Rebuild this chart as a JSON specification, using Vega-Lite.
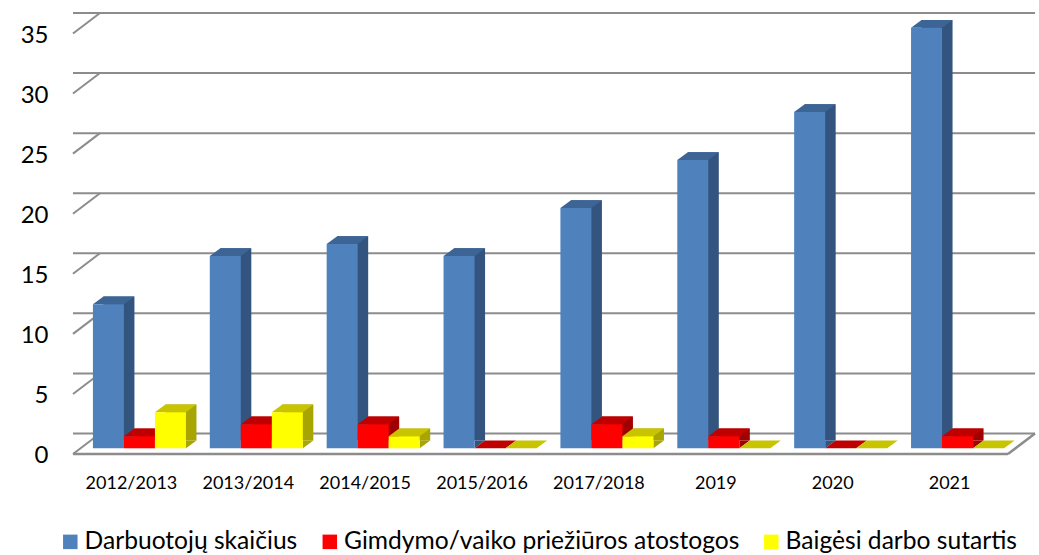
{
"$schema":"https://vega.github.io/schema/vega-lite/v6.json",
"width":935,"height":420.5,
"autosize":"none",
"padding":{"left":73,"top":33.5,"right":31,"bottom":101},
"background":"white",
"config":{"view":{"stroke":null},"font":"Lato"},
"datasets":{
"ticks":[{"tick":0},{"tick":5},{"tick":10},{"tick":15},{"tick":20},{"tick":25},{"tick":30},{"tick":35}],
"floor":[{"tick":0}],
"bars":[
{"period":"2012/2013","series":"Darbuotojų skaičius","value":12},{"period":"2012/2013","series":"Gimdymo/vaiko priežiūros atostogos","value":1},{"period":"2012/2013","series":"Baigėsi darbo sutartis","value":3},
{"period":"2013/2014","series":"Darbuotojų skaičius","value":16},{"period":"2013/2014","series":"Gimdymo/vaiko priežiūros atostogos","value":2},{"period":"2013/2014","series":"Baigėsi darbo sutartis","value":3},
{"period":"2014/2015","series":"Darbuotojų skaičius","value":17},{"period":"2014/2015","series":"Gimdymo/vaiko priežiūros atostogos","value":2},{"period":"2014/2015","series":"Baigėsi darbo sutartis","value":1},
{"period":"2015/2016","series":"Darbuotojų skaičius","value":16},{"period":"2015/2016","series":"Gimdymo/vaiko priežiūros atostogos","value":0},{"period":"2015/2016","series":"Baigėsi darbo sutartis","value":0},
{"period":"2017/2018","series":"Darbuotojų skaičius","value":20},{"period":"2017/2018","series":"Gimdymo/vaiko priežiūros atostogos","value":2},{"period":"2017/2018","series":"Baigėsi darbo sutartis","value":1},
{"period":"2019","series":"Darbuotojų skaičius","value":24},{"period":"2019","series":"Gimdymo/vaiko priežiūros atostogos","value":1},{"period":"2019","series":"Baigėsi darbo sutartis","value":0},
{"period":"2020","series":"Darbuotojų skaičius","value":28},{"period":"2020","series":"Gimdymo/vaiko priežiūros atostogos","value":0},{"period":"2020","series":"Baigėsi darbo sutartis","value":0},
{"period":"2021","series":"Darbuotojų skaičius","value":35},{"period":"2021","series":"Gimdymo/vaiko priežiūros atostogos","value":1},{"period":"2021","series":"Baigėsi darbo sutartis","value":0}
]},
"layer":[
{"data":{"name":"ticks"},
 "mark":{"type":"rule","stroke":"#8c8c8c","strokeWidth":2,"xOffset":27,"yOffset":-20.5,"x2Offset":27},
 "encoding":{"y":{"field":"tick","type":"quantitative","scale":{"domain":[0,35],"nice":false},
   "axis":{"title":null,"values":[0,5,10,15,20,25,30,35],"grid":false,"domain":false,"ticks":false,"labelPadding":25,"labelOffset":1.5,"labelFontSize":24,"labelColor":"#000000","labelFont":"Lato"}}}},
{"data":{"name":"ticks"},
 "mark":{"type":"point","shape":"M0,0L27,-20.5","filled":false,"size":4,"stroke":"#8c8c8c","strokeWidth":2,"opacity":1},
 "encoding":{"x":{"value":0},"y":{"field":"tick","type":"quantitative","axis":null,"scale":{"domain":[0,35],"nice":false}}}},
{"data":{"name":"floor"},
 "mark":{"type":"rule","stroke":"#8c8c8c","strokeWidth":2.5},
 "encoding":{"y":{"field":"tick","type":"quantitative","axis":null,"scale":{"domain":[0,35],"nice":false}}}},
{"data":{"name":"floor"},
 "mark":{"type":"point","shape":"M0,0L27,-20.5","filled":false,"size":4,"stroke":"#8c8c8c","strokeWidth":2.5,"opacity":1},
 "encoding":{"x":{"value":"width"},"y":{"field":"tick","type":"quantitative","axis":null,"scale":{"domain":[0,35],"nice":false}}}},
{"data":{"name":"bars"},
 "transform":[{"filter":"datum.value>0"}],
 "mark":{"type":"bar","opacity":1},
 "encoding":{
  "x":{"field":"period","type":"nominal","sort":null,"axis":null,"scale":{"type":"band","paddingInner":0.204,"paddingOuter":0.102,"range":[18.5,953.5]}},
  "xOffset":{"field":"series","type":"nominal","scale":{"domain":["Darbuotojų skaičius","Gimdymo/vaiko priežiūros atostogos","Baigėsi darbo sutartis"],"paddingInner":0,"paddingOuter":0}},
  "y":{"field":"value","type":"quantitative","stack":null,"axis":null,"scale":{"domain":[0,35],"nice":false,"range":[407.1,-13.4]}},
  "color":{"field":"series","type":"nominal","legend":null,"scale":{"domain":["Darbuotojų skaičius","Gimdymo/vaiko priežiūros atostogos","Baigėsi darbo sutartis"],"range":["#32547f","#a00000","#a8a400"]}}}},
{"data":{"name":"bars"},
 "transform":[{"filter":"datum.value>0"}],
 "mark":{"type":"point","shape":"M15.5,0L26,-7.7L15.5,-7.7Z","filled":true,"size":4,"opacity":1},
 "encoding":{
  "x":{"field":"period","type":"nominal","sort":null,"axis":null,"scale":{"type":"band","paddingInner":0.204,"paddingOuter":0.102,"range":[8,943]}},
  "xOffset":{"field":"series","type":"nominal","scale":{"type":"point","domain":["Darbuotojų skaičius","Gimdymo/vaiko priežiūros atostogos","Baigėsi darbo sutartis"],"padding":0.5}},
  "y":{"datum":0,"type":"quantitative","axis":null,"scale":{"domain":[0,35],"nice":false,"range":[414.8,-5.7]}},
  "color":{"field":"series","type":"nominal","legend":null,"scale":{"domain":["Darbuotojų skaičius","Gimdymo/vaiko priežiūros atostogos","Baigėsi darbo sutartis"],"range":["#32547f","#a00000","#a8a400"]}}}},
{"data":{"name":"bars"},
 "mark":{"type":"point","shape":"M-15.5,0L15.5,0L26,-7.7L-5,-7.7Z","filled":true,"size":4,"opacity":1},
 "encoding":{
  "x":{"field":"period","type":"nominal","sort":null,"axis":null,"scale":{"type":"band","paddingInner":0.204,"paddingOuter":0.102,"range":[8,943]}},
  "xOffset":{"field":"series","type":"nominal","scale":{"type":"point","domain":["Darbuotojų skaičius","Gimdymo/vaiko priežiūros atostogos","Baigėsi darbo sutartis"],"padding":0.5}},
  "y":{"field":"value","type":"quantitative","axis":null,"scale":{"domain":[0,35],"nice":false,"range":[414.8,-5.7]}},
  "color":{"field":"series","type":"nominal","legend":null,"scale":{"domain":["Darbuotojų skaičius","Gimdymo/vaiko priežiūros atostogos","Baigėsi darbo sutartis"],"range":["#3c6596","#c00000","#c8c400"]}}}},
{"data":{"name":"bars"},
 "transform":[{"filter":"datum.value>0"}],
 "mark":{"type":"bar","opacity":1},
 "encoding":{
  "x":{"field":"period","type":"nominal","sort":null,"scale":{"type":"band","paddingInner":0.204,"paddingOuter":0.102,"range":[8,943]},
    "axis":{"title":null,"domain":false,"ticks":false,"labelAngle":0,"labelPadding":20,"labelOffset":-8,"labelFontSize":18,"labelColor":"#000000","labelFont":"Lato"}},
  "xOffset":{"field":"series","type":"nominal","scale":{"domain":["Darbuotojų skaičius","Gimdymo/vaiko priežiūros atostogos","Baigėsi darbo sutartis"],"paddingInner":0,"paddingOuter":0}},
  "y":{"field":"value","type":"quantitative","stack":null,"axis":null,"scale":{"domain":[0,35],"nice":false,"range":[414.8,-5.7]}},
  "color":{"field":"series","type":"nominal","title":null,"scale":{"domain":["Darbuotojų skaičius","Gimdymo/vaiko priežiūros atostogos","Baigėsi darbo sutartis"],"range":["#4f81bd","#ff0000","#ffff00"]},
   "legend":{"orient":"none","legendX":-15,"legendY":496,"direction":"horizontal","columns":3,"symbolType":"square","symbolSize":210,"symbolStrokeWidth":0,"symbolOpacity":1,"labelFontSize":24.6,"labelFont":"Lato","labelColor":"#000000","labelLimit":500,"columnPadding":19.5,"labelOffset":2}}}}
],
"resolve":{"scale":{"color":"independent","x":"independent","y":"independent","xOffset":"independent"}}
}
